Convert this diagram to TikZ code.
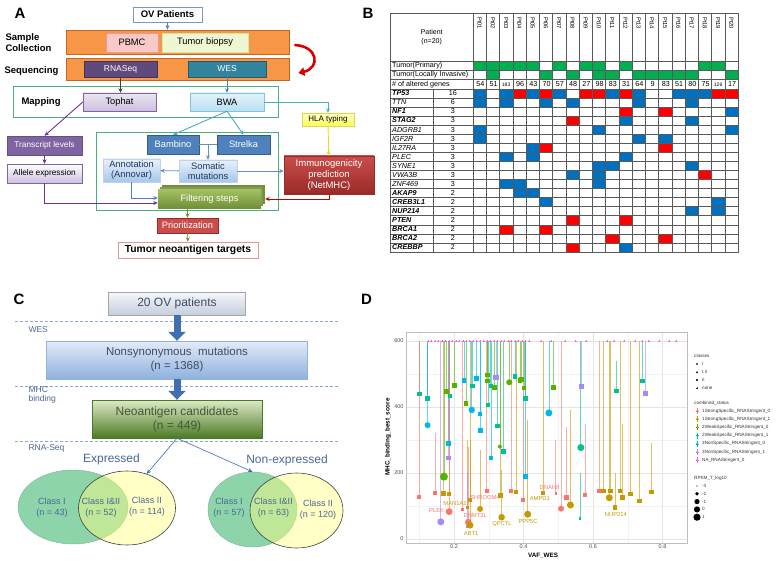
\documentclass[tikz,border=0pt]{standalone}
\usepackage{fontspec}
\setmainfont{Liberation Sans}
\usetikzlibrary{arrows.meta,shapes.geometric}

% colours of the pipeline (A)
\definecolor{barorange}{HTML}{F79646}
\definecolor{barline}{HTML}{C4661F}
\definecolor{pbmcfill}{HTML}{F8C9C6}
\definecolor{pbmcline}{HTML}{E69B97}
\definecolor{biopfill}{HTML}{EEF7D2}
\definecolor{biopline}{HTML}{D5E4A8}
\definecolor{rnapurple}{HTML}{604A7B}
\definecolor{westeal}{HTML}{31849B}
\definecolor{mapgreen}{HTML}{4BAF7D}
\definecolor{lilac}{HTML}{CDBFE0}
\definecolor{boxpurple}{HTML}{8064A2}
\definecolor{linepurple}{HTML}{7030A0}
\definecolor{paleblue}{HTML}{B9E0F2}
\definecolor{skyline}{HTML}{4BACC6}
\definecolor{steel}{HTML}{4F81BD}
\definecolor{steeldark}{HTML}{385D8A}
\definecolor{steelgrey}{HTML}{6D8CBF}
\definecolor{mutblue}{HTML}{A7C7EA}
\definecolor{mutline}{HTML}{BCD2EE}
\definecolor{navytext}{HTML}{1F3864}
\definecolor{brick}{HTML}{C84E4B}
\definecolor{brickdark}{HTML}{9B2A27}
\definecolor{leaf}{HTML}{A3C163}
\definecolor{leafdark}{HTML}{6F8F38}
\definecolor{hlayellow}{HTML}{FFFF55}
\definecolor{hlaline}{HTML}{D6D65A}
% colours of the table (B)
\definecolor{tblue}{HTML}{0070C0}
\definecolor{tred}{HTML}{FF0000}
\definecolor{tgreen}{HTML}{00B050}
% colours of the funnel (C)
\definecolor{sepblue}{HTML}{8EA9D8}
\definecolor{flowblue}{HTML}{3F70B3}
\definecolor{greytop}{HTML}{F5F7FB}
\definecolor{greybot}{HTML}{C5CEDC}
\definecolor{nstop}{HTML}{E3EBF7}
\definecolor{nsbot}{HTML}{8FB1DE}
\definecolor{neotop}{HTML}{DDEAC6}
\definecolor{neobot}{HTML}{4C7A24}
\definecolor{labblue}{HTML}{4A6796}
\definecolor{boxtext}{HTML}{3F4B63}
\definecolor{neotext}{HTML}{46553A}
\definecolor{venngreen}{HTML}{8ED4AA}
\definecolor{vennyellow}{HTML}{FFFF80}
% colours of the scatter plot (D)
\definecolor{csr}{HTML}{F8766D}
\definecolor{csg}{HTML}{C49A00}
\definecolor{cwg}{HTML}{53B400}
\definecolor{cwt}{HTML}{00C094}
\definecolor{cnb}{HTML}{00B6EB}
\definecolor{cnl}{HTML}{A58AFF}
\definecolor{cna}{HTML}{FB61D7}

\newcommand{\genebf}{\bfseries\itshape}
\newcommand{\geneit}{\itshape}

\tikzset{
  panellabel/.style={font=\bfseries\fontsize{15}{15}\selectfont},
  abox/.style={draw, inner sep=1pt, align=center, font=\fontsize{9.3}{10.5}\selectfont},
  bar/.style={draw=barline, fill=barorange, line width=0.8pt, minimum width=223pt},
  frame/.style={draw=mapgreen, line width=0.9pt},
  steplabel/.style={anchor=west, align=left, font=\bfseries\fontsize{9.5}{10.5}\selectfont},
  flow/.style={->, line width=0.9pt},
  grid/.style={draw=black!65, line width=0.4pt},
  rowlab/.style={anchor=west, inner sep=0pt, font=\fontsize{7.2}{8}\selectfont},
  sepline/.style={draw=sepblue, densely dashed, line width=0.5pt},
  cbox/.style={draw, align=center, inner sep=1pt},
  cstep/.style={anchor=west, align=left, text=labblue, font=\fontsize{8.5}{9.5}\selectfont},
  bigarrow/.style={draw=flowblue, line width=7pt, -{Triangle[length=9pt,width=17pt]}},
  venn1/.style={ellipse, fill=venngreen, draw=venngreen!85!black, line width=0.4pt},
  venn2/.style={ellipse, fill=vennyellow, fill opacity=0.45, draw=black!75, line width=0.6pt},
  venntext/.style={align=center, text=labblue, font=\fontsize{9}{11}\selectfont},
  minorgrid/.style={draw=black!5, line width=0.3pt},
  majorgrid/.style={draw=black!10, line width=0.5pt},
  ticklab/.style={text=black!70, inner sep=1pt, font=\fontsize{5.5}{6}\selectfont},
  axistitle/.style={font=\bfseries\fontsize{6.3}{7}\selectfont},
  legtext/.style={anchor=west, inner sep=0pt, text=black!80, font=\fontsize{4.6}{5}\selectfont},
  genelab/.style={inner sep=0pt, font=\fontsize{5.8}{6}\selectfont},
}

\begin{document}
\begin{tikzpicture}[x=1pt, y=-1pt, >={Stealth[length=4.5pt,width=4pt]}]
\useasboundingbox (0,0) rectangle (778,561);

%%%%%%%%%%%%%%%% A: workflow
\node[panellabel] (labA) at (20,13) {A};
\node[abox, draw=steel!80, fill=white, font=\bfseries\fontsize{9.5}{10}\selectfont,
      minimum width=69pt, minimum height=15pt] (ov) at (167.5,14.5) {OV Patients};
\node[bar, minimum height=24pt] (collect) at (177.5,42) {};
\node[bar, minimum height=22pt] (seqbar) at (177.5,69) {};
\node[steplabel] (lcollect) at (2,42.5) {Sample\\Collection};
\node[steplabel] (lseq) at (1,71) {Sequencing};
\node[abox, draw=pbmcline, fill=pbmcfill, minimum width=52pt, minimum height=19pt] (pbmc) at (132,42.5) {PBMC};
\node[abox, draw=biopline, fill=biopfill, minimum width=86pt, minimum height=19pt] (biopsy) at (205,42.5) {Tumor biopsy};
\node[abox, draw=rnapurple!70!black, fill=rnapurple, text=white, font=\fontsize{8.5}{9}\selectfont,
      minimum width=73pt, minimum height=16pt] (rnaseq) at (120.5,69) {RNASeq};
\node[abox, draw=westeal!70!black, fill=westeal, text=white, font=\fontsize{8.5}{9}\selectfont,
      minimum width=78pt, minimum height=16pt] (wes) at (227,69) {WES};

% red loop between the two orange bars
\draw[red!85!black, line width=2.6pt, -{Triangle[length=6pt,width=8.5pt]}]
  ([xshift=5pt,yshift=-3pt]collect.east) .. controls +(24,1) and +(22,-5) .. ([xshift=9pt,yshift=-4pt]seqbar.east);

% mapping
\node[frame, minimum width=265pt, minimum height=31pt] (mapbox) at (145.5,101.5) {};
\node[steplabel] (lmap) at (18,102.5) {Mapping};
\node[abox, draw=boxpurple, top color=lilac!40, bottom color=lilac, minimum width=73pt, minimum height=18pt] (tophat) at (119.5,102) {Tophat};
\node[abox, draw=skyline!70, top color=paleblue!40, bottom color=paleblue, minimum width=74pt, minimum height=18pt] (bwa) at (227,102) {BWA};
\node[abox, draw=hlaline, top color=hlayellow!30, bottom color=hlayellow, font=\fontsize{8}{9}\selectfont,
      minimum width=52pt, minimum height=13pt] (hla) at (328,119.5) {HLA typing};

% variant calling and filtering
\node[frame, minimum width=182pt, minimum height=78pt] (filtbox) at (187,171) {};
\node[abox, draw=steeldark, fill=steel, text=white, minimum width=52pt, minimum height=19pt] (bambino) at (173,144.5) {Bambino};
\node[abox, draw=steeldark, fill=steel, text=white, minimum width=53pt, minimum height=19pt] (strelka) at (243.5,144.5) {Strelka};
\node[abox, draw=mutline, top color=mutblue!25, bottom color=mutblue, text=navytext, font=\fontsize{9.3}{10}\selectfont,
      minimum width=58pt, minimum height=22pt] (somatic) at (208,171) {Somatic\\mutations};
\node[abox, draw=mutline, top color=mutblue!25, bottom color=mutblue, text=navytext, font=\fontsize{9.3}{10}\selectfont,
      minimum width=57pt, minimum height=23pt] (annot) at (131.5,170.5) {Annotation\\(Annovar)};
\node[abox, draw=brickdark, top color=brick, bottom color=brickdark, text=white, font=\fontsize{9.5}{11.3}\selectfont,
      minimum width=90pt, minimum height=38pt] (immuno) at (329,175) {Immunogenicity\\prediction\\(NetMHC)};
\node[abox, draw=boxpurple!80!black, fill=boxpurple, text=white, font=\fontsize{8.3}{9}\selectfont,
      minimum width=75pt, minimum height=19pt] (translev) at (44.5,145.5) {Transcript levels};
\node[abox, draw=boxpurple, top color=white, bottom color=lilac, font=\fontsize{8.3}{9}\selectfont,
      minimum width=75pt, minimum height=19pt] (allele) at (44.5,173.5) {Allele expression};

% stacked sheets behind the filtering box
\fill[leafdark] (162,185.5) rectangle (265,204.5);
\fill[leaf!80!black] (160,187.5) rectangle (263,206.5);
\node[abox, draw=none, top color=leaf, bottom color=leafdark, text=white,
      minimum width=103pt, minimum height=19pt] (filter) at (209.5,199) {Filtering steps};
\node[abox, draw=brickdark, fill=brick, text=white, minimum width=61pt, minimum height=15pt] (prior) at (187.5,225.5) {Prioritization};
\node[abox, draw=brick!60, fill=white, font=\bfseries\fontsize{10.3}{11}\selectfont,
      minimum width=140pt, minimum height=16pt] (targets) at (188,250) {Tumor neoantigen targets};

% connectors
\draw[flow, steel] (ov) -- (ov |- collect.north);
\draw[flow, black!75] (rnaseq) -- (rnaseq |- tophat.north);
\draw[flow, steel] (wes) -- (bwa);
\draw[flow, skyline] (bwa.east) -| (hla.north);
\draw[flow, linepurple] (tophat.west) -- (translev.north);
\draw[flow, skyline] (bwa.south) -- (bambino.north);
\draw[flow, skyline] (bwa.south) -- (strelka.north);
\draw[line width=0.9pt, steelgrey] (bambino) -- (strelka);
\draw[flow, steelgrey] (somatic.north |- bambino.east) -- (somatic.north);
\draw[flow, steelgrey] (somatic) -- (annot);
\draw[flow, steelgrey] (somatic.east) -- (somatic.east -| immuno.west);
\draw[flow, yellow!90!black] (hla) -- (immuno);
\draw[flow, linepurple] (translev) -- (allele);
\draw[flow, linepurple] (allele.south) |- ([yshift=-4pt]filter.west);
\draw[flow, steel] (annot.south) |- ([yshift=1pt]filter.west);
\draw[flow, red!75!black] (immuno.south) |- ([xshift=4pt]filter.east);
\draw[flow, leafdark] (prior.north |- filter.south) -- (prior.north);
\draw[flow, leafdark] (prior) -- (targets);

%%%%%%%%%%%%%%%% B: table of altered genes
\node[panellabel] (labB) at (368,13) {B};
% tumour type
\foreach \c in {1,2,3,4,5,7,9,10,12,18,19}
  \fill[tgreen] ({473+(\c-1)*13.25},61.5) rectangle ++(13.25,9.07);
\foreach \c in {2,6,8,10,11,13,14,15,16,17,20}
  \fill[tgreen] ({473+(\c-1)*13.25},70.57) rectangle ++(13.25,9.07);
% genes: name/count/font/altered patients
\foreach \g/\n/\f/\cells [count=\r from 3] in {
  TP53/16/\genebf/{1/tblue,3/tblue,4/tred,5/tblue,6/tred,7/tblue,9/tred,10/tred,11/tblue,12/tred,13/tblue,16/tblue,17/tblue,18/tblue,19/tred,20/tred},
  TTN/6/\geneit/{1/tblue,3/tblue,6/tblue,8/tblue,13/tblue,17/tblue},
  NF1/3/\genebf/{12/tred,15/tred,20/tblue},
  STAG2/3/\genebf/{8/tred,12/tblue,17/tblue},
  ADGRB1/3/\geneit/{1/tblue,10/tblue,20/tblue},
  IGF2R/3/\geneit/{1/tblue,13/tblue,15/tblue},
  IL27RA/3/\geneit/{5/tblue,6/tred,15/tred},
  PLEC/3/\geneit/{3/tblue,5/tblue,12/tblue},
  SYNE1/3/\geneit/{10/tblue,11/tblue,17/tblue},
  VWA3B/3/\geneit/{8/tblue,10/tblue,18/tred},
  ZNF469/3/\geneit/{3/tblue,4/tblue,10/tblue},
  AKAP9/2/\genebf/{4/tblue,5/tblue},
  CREB3L1/2/\genebf/{6/tblue,19/tblue},
  NUP214/2/\genebf/{17/tblue,19/tblue},
  PTEN/2/\genebf/{8/tred,12/tred},
  BRCA1/2/\genebf/{3/tred,6/tred},
  BRCA2/2/\genebf/{11/tred,15/tred},
  CREBBP/2/\genebf/{8/tred,12/tblue}} {
  \foreach \c/\k in \cells
    \fill[\k] ({473+(\c-1)*13.25},{61.5+\r*9.07}) rectangle ++(13.25,9.07);
  \node[rowlab, font=\fontsize{7.2}{8}\selectfont\f] at (392,{61.5+(\r+0.5)*9.07}) {\g};
  \node[inner sep=0pt, font=\fontsize{7.2}{8}\selectfont] at (452.8,{61.5+(\r+0.5)*9.07}) {\n};
}
% grid
\foreach \r in {0,...,21}
  \draw[grid] (390.5,{61.5+\r*9.07}) -- (738,{61.5+\r*9.07});
\foreach \c in {0,...,20}
  \draw[grid] ({473+\c*13.25},13) -- ({473+\c*13.25},252);
\draw[grid] (432.7,88.7) -- (432.7,252);
\draw[grid] (390.5,13) rectangle (738,252);
% header
\node[align=center, font=\fontsize{7}{8.5}\selectfont] (patient) at (431.7,37) {Patient\\(n=20)};
\foreach \p [count=\i] in {01,02,03,04,05,06,07,08,09,10,11,12,13,14,15,16,17,18,19,20}
  \node[rotate=-90, anchor=west, inner sep=0pt, font=\fontsize{5.8}{6}\selectfont] at ({473+(\i-0.5)*13.25},17) {Pt\p};
\node[rowlab] (lprim) at (392,66) {Tumor(Primary)};
\node[rowlab] (linv) at (392,75.1) {Tumor(Locally Invasive)};
\node[rowlab] (lalt) at (392,84.2) {\# of altered genes};
\foreach \v [count=\i] in {54,51,183,96,43,70,57,48,27,98,83,31,64,9,83,51,80,75,126,17} {
  \ifnum\v>99
    \node[inner sep=0pt, font=\fontsize{5}{6}\selectfont] at ({473+(\i-0.5)*13.25},84.4) {\v};
  \else
    \node[inner sep=0pt, font=\fontsize{7.2}{8}\selectfont] at ({473+(\i-0.45)*13.25},84.2) {\v};
  \fi
}

%%%%%%%%%%%%%%%% C: neoantigen funnel
\node[panellabel] (labC) at (19,299) {C};
\draw[sepline] (15,321) -- (339,321);
\draw[sepline] (15,386) -- (339,386);
\draw[sepline] (15,441) -- (339,441);
\node[cstep] (lwes) at (25,330) {WES};
\node[cstep, font=\fontsize{8.5}{9}\selectfont] (lmhc) at (25,395) {MHC\\binding};
\node[cstep] (lrna) at (25,448) {RNA-Seq};

\node[cbox, draw=black!35, top color=greytop, bottom color=greybot, text=boxtext, font=\fontsize{12}{13}\selectfont,
      minimum width=137pt, minimum height=23pt] (ovall) at (177,303.5) {20 OV patients};
\node[cbox, draw=steel!60, top color=nstop, bottom color=nsbot, text=boxtext, font=\fontsize{11.5}{14}\selectfont,
      minimum width=261pt, minimum height=38pt] (nonsyn) at (177,360) {Nonsynonymous\ \ mutations\\(n = 1368)};
\node[cbox, draw=neobot, top color=neotop, bottom color=neobot, text=neotext, font=\fontsize{12}{14}\selectfont,
      minimum width=170pt, minimum height=38pt] (neo) at (177,419) {Neoantigen candidates\\(n = 449)};
\draw[bigarrow] (ovall) -- (nonsyn);
\draw[bigarrow] (nonsyn) -- (neo);

% Venn diagrams
\node[venn1, minimum width=110pt, minimum height=74pt] (expI) at (73,507) {};
\node[venn2, minimum width=97pt, minimum height=74pt] (expII) at (127,508) {};
\node[venn1, minimum width=89pt, minimum height=75pt] (nonI) at (252.5,509.5) {};
\node[venn2, minimum width=93pt, minimum height=75pt] (nonII) at (296.5,510.5) {};
\node[venntext] (e1) at (52,508) {Class I\\(n = 43)};
\node[venntext] (e12) at (101,508) {Class I\&II\\(n = 52)};
\node[venntext] (e2) at (147,507) {Class II\\(n = 114)};
\node[venntext] (n1) at (229,508) {Class I\\(n = 57)};
\node[venntext] (n12) at (273.5,508) {Class I\&II\\(n = 63)};
\node[venntext] (n2) at (318,510) {Class II\\(n = 120)};
\node[text=labblue, font=\fontsize{12}{13}\selectfont] (lexp) at (111.5,459) {Expressed};
\node[text=labblue, font=\fontsize{12}{13}\selectfont] (lnon) at (287,460) {Non-expressed};
\draw[->, flowblue, line width=0.6pt] (neo.south) -- (expII.60);
\draw[->, flowblue, line width=0.6pt] (neo.south) -- (nonI.north);

%%%%%%%%%%%%%%%% D: binding score against VAF
\node[panellabel] (labD) at (366.5,299) {D};
\begin{scope}[shift={(384.5,539)}, x=347.5pt, y=0.33pt]
  % panel and grid
  \foreach \v in {100,300,500} \draw[minorgrid] (0.062,\v) -- (0.870,\v);
  \foreach \v in {0.1,0.3,0.5,0.7} \draw[minorgrid] (\v,-12) -- (\v,627);
  \foreach \v in {0,200,400,600} {
    \draw[majorgrid] (0.062,\v) -- (0.870,\v);
    \node[ticklab, anchor=east] at (0.058,\v) {\v};
  }
  \foreach \v in {0.2,0.4,0.6,0.8} {
    \draw[majorgrid] (\v,-12) -- (\v,627);
    \node[ticklab, anchor=north] at (\v,-14) {\v};
  }
  \draw[black!25, line width=0.5pt] (0.062,-12) rectangle (0.870,627);

  % x/y/top of range/colour/half size
  \def\squares{0.100/439/600/cwt/2.3, 0.123/425/600/cwt/2.3, 0.179/446/600/cwg/2.5, 0.188/433/600/cwt/2.3,
    0.201/466/600/cwg/2.3, 0.229/480/600/cnb/2.3, 0.235/411/600/cwg/2.3, 0.253/464/600/cwt/2.3,
    0.264/486/600/cnb/2.3, 0.275/379/600/cnb/2.3, 0.296/497/600/cwg/2.3, 0.296/479/600/cwg/2.3,
    0.298/406/600/cwt/2.3, 0.306/464/600/cwt/2.3, 0.317/460/600/cwg/2.3, 0.321/489/600/cnl/2.6,
    0.376/492/600/cwt/2.3, 0.390/480/600/cwg/2.3, 0.394/484/600/cwg/2.3, 0.402/457/600/cwg/2,
    0.405/426/600/cwt/2.3, 0.487/460/600/cwg/2.3, 0.567/461/600/cnl/2.6, 0.668/448/540/cwt/2.3,
    0.742/479/600/cwt/2.3, 0.750/442/600/cnl/2.6, 0.277/328/600/cnb/2.3, 0.325/343/600/cwt/2.3,
    0.184/289/600/cnb/2.3, 0.184/245/600/cnl/2.3, 0.342/264/600/cwt/2.5, 0.307/246/600/cnb/2,
    0.406/189/600/cnb/2.3, 0.100/128/600/csr/2, 0.145/138/320/csr/2, 0.169/138/600/csg/2.3,
    0.186/136/600/csg/2.3, 0.246/118/600/csg/2.3, 0.294/146/600/csr/2, 0.334/132/600/csg/2.3,
    0.225/88/600/csr/1.5, 0.239/96/300/csg/1.8, 0.238/37/200/cnl/1.5, 0.364/146/600/csr/2,
    0.378/143/600/csg/2.3, 0.399/118/600/csr/2, 0.457/140/600/csg/2, 0.493/138/300/csr/1.3,
    0.524/125/340/csr/2.3, 0.563/63/200/cwt/1.3, 0.577/133/350/csr/1.8, 0.618/146/600/csr/2,
    0.630/145/600/csg/2.3, 0.651/145/600/csg/2.3, 0.678/145/600/csg/2.3, 0.684/125/350/csg/2.3,
    0.663/95/200/csg/2.3, 0.708/136/600/csg/2.3, 0.733/115/600/csg/2.3, 0.769/143/290/csg/2.3}
  \def\circles{0.251/391/600/cnb/3.2, 0.124/345/600/cnb/3, 0.359/475/600/cwg/3, 0.473/382/600/cnb/3.5,
    0.171/189/600/cwg/4, 0.332/280/600/cwg/2, 0.565/277/600/cwt/3.5, 0.186/83/600/csr/3.5,
    0.162/52/600/cnl/3.5, 0.241/51/280/csr/3.3, 0.246/42/300/csg/3.5, 0.275/91/270/csg/3,
    0.337/66/210/csg/3.3, 0.412/75/360/csg/3.5, 0.508/92/600/csr/3, 0.535/103/390/csg/3.5,
    0.647/125/600/csg/3.5}

  % ranges
  \foreach \x/\y/\t/\c/\s in \squares \draw[\c, opacity=0.6, line width=0.7pt] (\x,\y) -- (\x,\t);
  \foreach \x/\y/\t/\c/\s in \circles \draw[\c, opacity=0.6, line width=0.7pt] (\x,\y) -- (\x,\t);
  % unclassified peptides at the top
  \foreach \x in {0.125,0.135,...,0.42,0.45,0.48,0.52,0.55,0.58,0.64,0.66,0.69,0.72,0.74,0.76,0.79,0.82,0.84}
    \draw[cna, line width=0.3pt] (\x,600) +(-1pt,0) -- +(1pt,0) (\x,600) +(0,-1pt) -- +(0,1pt);
  % points
  \foreach \x/\y/\t/\c/\s in \squares \fill[\c] (\x,\y) +(-\s pt,-\s pt) rectangle +(\s pt,\s pt);
  \foreach \x/\y/\t/\c/\s in \circles \fill[\c] (\x,\y) circle (\s pt);

  % gene labels
  \node[genelab, text=csr] (gplek) at (0.150,86) {PLEK};
  \node[genelab, text=csg] (gman) at (0.203,108) {MAN1A2};
  \node[genelab, text=csr] (gshr) at (0.289,126) {SHROOM4};
  \node[genelab, text=csr] (gdnm) at (0.261,70) {DNMT3L};
  \node[genelab, text=csg] (gabt) at (0.249,17) {ABT1};
  \node[genelab, text=csg] (gqpc) at (0.338,45) {QPCTL};
  \node[genelab, text=csg] (gppp) at (0.413,52) {PPP5C};
  \node[genelab, text=csg] (gamp) at (0.447,123) {AMPD1};
  \node[genelab, text=csr] (gdna) at (0.475,157) {DNAH8};
  \node[genelab, text=csg] (gnup) at (0.666,75) {NUP214};
\end{scope}
\node[axistitle] (xtitle) at (543,556) {VAF\_WES};
\node[axistitle, rotate=90] (ytitle) at (388,437) {MHC\_binding\_best\_score};

% legend
\node[legtext] (lgclass) at (694,356) {classes};
\fill[black!80] (697,364) circle (1.1pt);
\fill[black!80] (697,370.8) -- (698.2,373) -- (695.8,373) -- cycle;
\fill[black!80] (696,379) rectangle (698,381);
\draw[black!80, line width=0.3pt] (696,388) -- (698,388) (697,387) -- (697,389);
\foreach \t [count=\k from 0] in {I,{I,II},II,none}
  \node[legtext] at (702,{364+8*\k}) {\t};
\node[legtext] (lgstatus) at (694,403) {combined\_status};
\foreach \c/\t [count=\k from 0] in {csr/1StrongSpecific\_RNAStringent\_0, csg/1StrongSpecific\_RNAStringent\_1,
    cwg/2WeakSpecific\_RNAStringent\_0, cwt/2WeakSpecific\_RNAStringent\_1, cnb/3NonSpecific\_RNAStringent\_0,
    cnl/3NonSpecific\_RNAStringent\_1, cna/NA\_RNAStringent\_0} {
  \draw[\c, line width=0.5pt] (697,{411+8.2*\k-3}) -- (697,{411+8.2*\k+3});
  \draw[\c, line width=0.5pt] (695.5,{411+8.2*\k}) -- (698.5,{411+8.2*\k});
  \fill[\c] (697,{411+8.2*\k}) circle (1pt);
  \node[legtext] at (702,{411+8.2*\k}) {\t};
}
\node[legtext] (lgrpkm) at (694,478) {RPKM\_T\_log10};
\foreach \v/\s [count=\k from 0] in {-3/0.7,-2/1.9,-1/2.6,0/3.1,1/3.6} {
  \fill[black] (697,{486+7.8*\k}) circle (\s pt);
  \node[legtext] at (702,{486+7.8*\k}) {\v};
}
\end{tikzpicture}
\end{document}
